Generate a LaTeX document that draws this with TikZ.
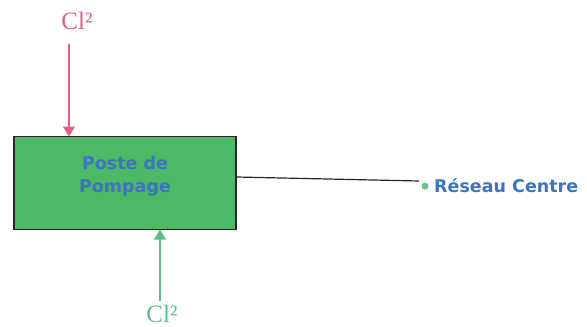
\documentclass[tikz,border=0pt]{standalone}
\usepackage{fontspec}
\setmainfont{Liberation Serif}
\newfontfamily\boxfont{DejaVu Sans}
\usetikzlibrary{arrows.meta}
\definecolor{boxgreen}{HTML}{4DB866}
\definecolor{txtblue}{HTML}{3C74C2}
\definecolor{clred}{HTML}{E0607E}
\definecolor{clgreen}{HTML}{5DBE8C}
\definecolor{dotgreen}{HTML}{5CC88A}
\tikzset{
  x=1pt,y=-1pt,
  stationbox/.style={draw=black!85,line width=1.2pt,fill=boxgreen,minimum width=222pt,minimum height=93pt,inner sep=0pt},
  boxtext/.style={align=center,inner sep=0pt,font=\boxfont\bfseries\fontsize{17.5}{23}\selectfont,text=txtblue},
  cllabel/.style={font=\fontsize{25}{27}\selectfont,inner sep=0pt},
  feed/.style={line width=1.5pt,-{Triangle[length=10pt,width=12pt]}},
  netlabel/.style={font=\boxfont\bfseries\fontsize{17.5}{20}\selectfont,text=txtblue,anchor=west,inner sep=0pt},
  link/.style={draw=black!85,line width=1.2pt}
}
\begin{document}
\begin{tikzpicture}
\useasboundingbox (0,0) rectangle (587,327);
\node[stationbox] (poste) at (125,183) {};
\node[boxtext] (postetext) at (125,176) {Poste de\\Pompage};
\node[cllabel,text=clred] (clA) at (77,21) {Cl²};
\node[cllabel,text=clgreen] (clB) at (162,314) {Cl²};
\coordinate (topin) at (69,136.5);
\coordinate (redstart) at (69,44);
\coordinate (botin) at (160,229.5);
\coordinate (greenstart) at (160,301);
\draw[feed,clred] (redstart) -- (topin);
\draw[feed,clgreen] (greenstart) -- (botin);
\node[circle,fill=dotgreen,inner sep=0pt,minimum size=7pt] (dot) at (425,186) {};
\draw[link] (poste.east |- 0,177) -- (419,181);
\node[netlabel] (reseau) at (434,186) {Réseau Centre};
\end{tikzpicture}
\end{document}
